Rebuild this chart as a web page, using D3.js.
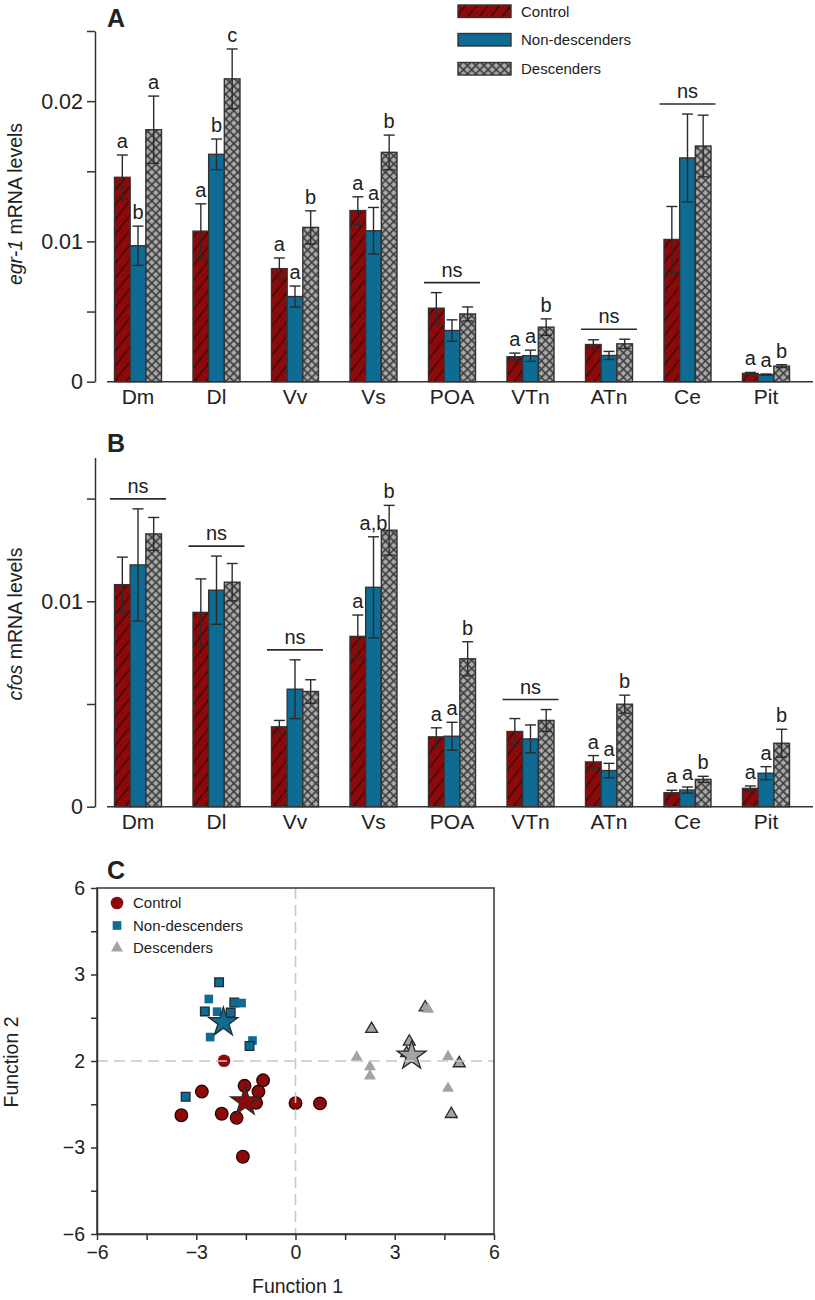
<!DOCTYPE html>
<html><head><meta charset="utf-8">
<script src="https://cdn.jsdelivr.net/npm/d3@7"></script>
<style>body{margin:0;background:#fff}svg{display:block;font-family:"Liberation Sans",Arial,sans-serif}</style>
</head><body>
<svg id="chart" width="815" height="1300"></svg>
<script>
// ---------- DATA ----------
const categories = ["Dm","Dl","Vv","Vs","POA","VTn","ATn","Ce","Pit"];
const groups = ["Control","Non-descenders","Descenders"];

const egr1Control   = [0.01457,0.01073,0.00806,0.01220,0.00524,0.00178,0.00265,0.01014,0.00059];
const egr1ControlSE = [0.00159,0.00195,0.00076,0.00098,0.00111,0.00026,0.00034,0.00235,0.00007];
const egr1Non       = [0.00969,0.01621,0.00607,0.01076,0.00365,0.00185,0.00187,0.01595,0.00050];
const egr1NonSE     = [0.00140,0.00109,0.00075,0.00166,0.00076,0.00040,0.00029,0.00313,0.00005];
const egr1Desc      = [0.01796,0.02159,0.01100,0.01635,0.00483,0.00389,0.00270,0.01680,0.00111];
const egr1DescSE    = [0.00240,0.00213,0.00118,0.00123,0.00050,0.00059,0.00033,0.00220,0.00010];

const cfosControl   = [0.01081,0.00946,0.00389,0.00829,0.00340,0.00366,0.00218,0.00068,0.00089];
const cfosControlSE = [0.00134,0.00163,0.00031,0.00104,0.00044,0.00063,0.00031,0.00012,0.00012];
const cfosNon       = [0.01177,0.01054,0.00572,0.01068,0.00343,0.00330,0.00176,0.00081,0.00163];
const cfosNonSE     = [0.00273,0.00166,0.00143,0.00246,0.00068,0.00068,0.00035,0.00015,0.00032];
const cfosDesc      = [0.01328,0.01093,0.00561,0.01346,0.00720,0.00420,0.00499,0.00133,0.00309];
const cfosDescSE    = [0.00080,0.00091,0.00057,0.00121,0.00083,0.00053,0.00044,0.00015,0.00068];

const sigA = [["a","b","a"],["a","b","c"],["a","a","b"],["a","a","b"],"ns",["a","a","b"],"ns","ns",["a","a","b"]];
const sigB = ["ns","ns","ns",["a","a,b","b"],["a","a","b"],"ns",["a","a","b"],["a","a","b"],["a","a","b"]];

const tickValsA = [0,0.005,0.01,0.015,0.02,0.025];
const tickLabelsA = ["0","","0.01","","0.02",""];
const tickValsB = [0,0.005,0.01,0.015];
const tickLabelsB = ["0","","0.01",""];

// Panel C (discriminant functions): [function1, function2, outlined]
const controlPts = [[-2.16,0.01,0],[-2.83,-1.06,1],[-1.54,-0.86,1],[-0.98,-0.67,1],[-1.12,-1.06,1],[-1.19,-1.45,1],
  [-3.45,-1.88,1],[-2.23,-1.83,1],[-1.78,-1.97,1],[0.00,-1.46,1],[0.74,-1.47,1],[-1.59,-3.32,1]];
const nonPts = [[-2.31,2.73,1],[-2.62,2.15,0],[-1.85,2.03,1],[-1.63,2.01,0],[-2.74,1.72,1],[-2.37,1.71,0],
  [-1.96,1.68,1],[-2.58,0.83,0],[-1.30,0.71,0],[-1.39,0.52,1],[-3.32,-1.24,1]];
const descPts = [[3.92,1.86,1],[4.01,1.79,0],[2.30,1.11,1],[3.44,0.67,1],[3.36,0.27,1],[1.85,0.13,0],
  [4.61,0.15,0],[4.95,-0.08,1],[2.25,-0.20,0],[2.25,-0.52,0],[4.61,-0.95,0],[4.71,-1.84,1]];
const centroids = [[-1.52,-1.41],[-2.18,1.34],[3.51,0.18]];
const tickValsC = [-6,-4.5,-3,-1.5,0,1.5,3,4.5,6];
const xTickLabelsC = {"-6":"\u22126","-3":"\u22123","0":"0","3":"3","6":"6"};
const yTickLabelsC = {"-6":"\u22126","-3":"\u22123","0":"2","3":"3","6":"6"};

// ---------- STYLE ----------
const RED = "#8e0a0a", BLUE = "#0e6b93", GRAY = "#a3a3a3", INK = "#2b2b2b";
const FONT = "Liberation Sans, Arial, sans-serif";
const svg = d3.select("#chart");
const defs = svg.append("defs");
const ph = defs.append("pattern").attr("id","hatch").attr("patternUnits","userSpaceOnUse")
  .attr("width",9).attr("height",9).attr("patternTransform","rotate(38)");
ph.append("rect").attr("width",9).attr("height",9).attr("fill",RED);
ph.append("line").attr("x1",1).attr("x2",1).attr("y1",0).attr("y2",9).attr("stroke","#2a0606").attr("stroke-width",1.2);
const pc = defs.append("pattern").attr("id","cross").attr("patternUnits","userSpaceOnUse")
  .attr("width",5.8).attr("height",5.8).attr("patternTransform","rotate(45)");
pc.append("rect").attr("width",5.8).attr("height",5.8).attr("fill","#3c3c3c");
pc.append("rect").attr("x",0.8).attr("y",0.8).attr("width",4.2).attr("height",4.2).attr("fill","#a8a8a8");
const fills = ["url(#hatch)", BLUE, "url(#cross)"];

const x0 = d3.scaleBand().domain(categories).range([98.75, 805.25]);
const x1 = d3.scaleBand().domain(groups).range([-23.5, 23.5]);

function barPanel(cfg){
  const g = svg.append("g");
  const y = cfg.y;
  const rows = [];
  categories.forEach((c,i)=>{
    cfg.series.forEach((s,j)=>{ rows.push({c,i,j,v:s[0][i],se:s[1][i]}); });
  });
  g.selectAll("rect.bar").data(rows).join("rect")
    .attr("x",d=>x0(d.c)+x0.bandwidth()/2+x1(groups[d.j]))
    .attr("width",x1.bandwidth())
    .attr("y",d=>y(d.v)).attr("height",d=>y(0)-y(d.v))
    .attr("fill",d=>fills[d.j]).attr("stroke","#333").attr("stroke-width",1.4);
  const cx = d=>x0(d.c)+x0.bandwidth()/2+x1(groups[d.j])+x1.bandwidth()/2;
  const eb = g.selectAll("g.eb").data(rows).join("g").attr("stroke",INK).attr("stroke-width",1.4);
  eb.append("line").attr("x1",cx).attr("x2",cx).attr("y1",d=>y(d.v-d.se)).attr("y2",d=>y(d.v+d.se));
  eb.append("line").attr("x1",d=>cx(d)-5.5).attr("x2",d=>cx(d)+5.5).attr("y1",d=>y(d.v+d.se)).attr("y2",d=>y(d.v+d.se));
  eb.append("line").attr("x1",d=>cx(d)-5.5).attr("x2",d=>cx(d)+5.5).attr("y1",d=>y(d.v-d.se)).attr("y2",d=>y(d.v-d.se));
  categories.forEach((c,i)=>{
    const s = cfg.sig[i];
    const center = x0(c)+x0.bandwidth()/2;
    if (s==="ns"){
      const top = d3.min(cfg.series, se=>y(se[0][i]+se[1][i]));
      const ly = top-10;
      g.append("line").attr("x1",center-28).attr("x2",center+28).attr("y1",ly).attr("y2",ly)
        .attr("stroke",INK).attr("stroke-width",1.6);
      g.append("text").attr("x",center).attr("y",ly-6).attr("text-anchor","middle")
        .attr("font-size",20).attr("fill","#222").text("ns");
    } else {
      s.forEach((lab,j)=>{
        const ser = cfg.series[j];
        g.append("text").attr("x",center+x1(groups[j])+x1.bandwidth()/2)
          .attr("y",y(ser[0][i]+ser[1][i])-7).attr("text-anchor","middle")
          .attr("font-size",20).attr("fill","#222").text(lab);
      });
    }
  });
  const ax = g.append("g").attr("transform","translate(95,0)")
    .call(d3.axisLeft(y).tickValues(cfg.ticks).tickSize(8).tickSizeOuter(0).tickPadding(4)
      .tickFormat((d,k)=>cfg.tickLabels[k]));
  ax.select(".domain").attr("stroke","#333").attr("stroke-width",1.5);
  ax.selectAll(".tick line").attr("stroke","#333").attr("stroke-width",1.5);
  ax.selectAll(".tick text").attr("font-size",21.5).attr("fill","#222").attr("font-family",FONT);
  g.append("line").attr("x1",107).attr("x2",813).attr("y1",y(0)).attr("y2",y(0)).attr("stroke","#333").attr("stroke-width",1.6);
  const xa = g.append("g").attr("transform",`translate(0,${y(0)})`)
    .call(d3.axisBottom(x0).tickSize(0).tickPadding(cfg.labelPad));
  xa.select(".domain").remove();
  xa.selectAll(".tick text").attr("font-size",21).attr("fill","#222").attr("font-family",FONT);
  const t = g.append("text").attr("transform",`translate(${cfg.titleX},${cfg.titleY}) rotate(-90)`)
    .attr("text-anchor","middle").attr("font-size",19.5).attr("fill","#222").attr("dy","0.35em");
  t.append("tspan").attr("font-style","italic").text(cfg.titleItalic);
  t.append("tspan").text(cfg.titleRest);
  g.append("text").attr("x",107).attr("y",cfg.letterY).attr("font-size",25).attr("font-weight","bold")
    .attr("fill","#222").text(cfg.letter);
}

barPanel({
  y: d3.scaleLinear().domain([0,0.025]).range([381.7,31]),
  series: [[egr1Control,egr1ControlSE],[egr1Non,egr1NonSE],[egr1Desc,egr1DescSE]],
  sig: sigA, ticks: tickValsA, tickLabels: tickLabelsA, labelPad: 7,
  titleX: 15, titleY: 204, titleItalic: "egr-1", titleRest: " mRNA levels", letter: "A", letterY: 27
});
barPanel({
  y: d3.scaleLinear().domain([0,0.017]).range([806.7,457.5]),
  series: [[cfosControl,cfosControlSE],[cfosNon,cfosNonSE],[cfosDesc,cfosDescSE]],
  sig: sigB, ticks: tickValsB, tickLabels: tickLabelsB, labelPad: 7,
  titleX: 15, titleY: 624, titleItalic: "cfos", titleRest: " mRNA levels", letter: "B", letterY: 452
});

// legend A
const legA = svg.append("g");
groups.forEach((gname,j)=>{
  const yy = [5,33.5,62.5][j];
  legA.append("rect").attr("x",458).attr("y",yy).attr("width",53).attr("height",12.5)
    .attr("fill",fills[j]).attr("stroke","#333").attr("stroke-width",1.4);
  legA.append("text").attr("x",521).attr("y",yy+6.5).attr("dy","0.35em").attr("font-size",15)
    .attr("fill","#222").text(gname);
});

// ---------- PANEL C ----------
const xC = d3.scaleLinear().domain([-6,6]).range([97,494]);
const yC = d3.scaleLinear().domain([-6,6]).range([1234,888]);
const gc = svg.append("g");
gc.append("text").attr("x",107).attr("y",879).attr("font-size",25).attr("font-weight","bold").attr("fill","#222").text("C");

const circleSym = d3.symbol().type(d3.symbolCircle).size(125);
const squareSym = d3.symbol().type(d3.symbolSquare).size(75);
const triSym = d3.symbol().type(d3.symbolTriangle).size(62);
const starSym = d3.symbol().type(d3.symbolStar).size(260);

function drawPts(pts, sym, color, outline){
  gc.selectAll(null).data(pts).join("path")
    .attr("d",sym)
    .attr("transform",d=>`translate(${xC(d[0])},${yC(d[1])})`)
    .attr("fill",color)
    .attr("stroke",d=>d[2]?outline:"none").attr("stroke-width",1.3);
}
drawPts(controlPts, circleSym, RED, "#2a0000");
drawPts(nonPts, squareSym, BLUE, "#1d2a33");
drawPts(descPts, triSym, GRAY, "#2b2b2b");
const starCols = [RED, BLUE, GRAY];
gc.selectAll(null).data(centroids).join("path")
  .attr("d",starSym).attr("transform",d=>`translate(${xC(d[0])},${yC(d[1])})`)
  .attr("fill",(d,i)=>starCols[i]).attr("stroke","#2b2b2b").attr("stroke-width",1.3);

gc.append("line").attr("x1",xC(0)).attr("x2",xC(0)).attr("y1",yC(6)).attr("y2",yC(-6))
  .attr("stroke","#c8c8c8").attr("stroke-width",1.6).attr("stroke-dasharray","11,6");
gc.append("line").attr("x1",xC(-6)).attr("x2",xC(6)).attr("y1",yC(0)).attr("y2",yC(0))
  .attr("stroke","#c8c8c8").attr("stroke-width",1.6).attr("stroke-dasharray","11,6");

gc.append("rect").attr("x",xC(-6)).attr("y",yC(6)).attr("width",xC(6)-xC(-6)).attr("height",yC(-6)-yC(6))
  .attr("fill","none").attr("stroke","#333").attr("stroke-width",1.5);

const axB = gc.append("g").attr("transform",`translate(0,${yC(-6)})`)
  .call(d3.axisBottom(xC).tickValues(tickValsC).tickSize(6).tickSizeOuter(0).tickPadding(5)
    .tickFormat(d=>xTickLabelsC[String(d)]||""));
const axL = gc.append("g").attr("transform",`translate(${xC(-6)},0)`)
  .call(d3.axisLeft(yC).tickValues(tickValsC).tickSize(6).tickSizeOuter(0).tickPadding(6)
    .tickFormat(d=>yTickLabelsC[String(d)]||""));
[axB,axL].forEach(a=>{
  a.select(".domain").attr("stroke","#333").attr("stroke-width",1.5);
  a.selectAll(".tick line").attr("stroke","#333").attr("stroke-width",1.5);
  a.selectAll(".tick text").attr("font-size",19.5).attr("fill","#222").attr("font-family",FONT);
});
gc.append("text").attr("x",297.5).attr("y",1293).attr("text-anchor","middle").attr("font-size",19.5)
  .attr("fill","#222").text("Function 1");
gc.append("text").attr("transform","translate(11,1062) rotate(-90)").attr("text-anchor","middle")
  .attr("dy","0.35em").attr("font-size",19.5).attr("fill","#222").text("Function 2");

const legC = gc.append("g");
const legSyms = [circleSym, squareSym, triSym];
const legCols = [RED, BLUE, GRAY];
groups.forEach((gname,j)=>{
  const yy = 903 + j*22.5;
  legC.append("path").attr("d",legSyms[j]).attr("transform",`translate(117,${yy})`).attr("fill",legCols[j]);
  legC.append("text").attr("x",133).attr("y",yy).attr("dy","0.35em").attr("font-size",15).attr("fill","#222").text(gname);
});
</script>
</body></html>
